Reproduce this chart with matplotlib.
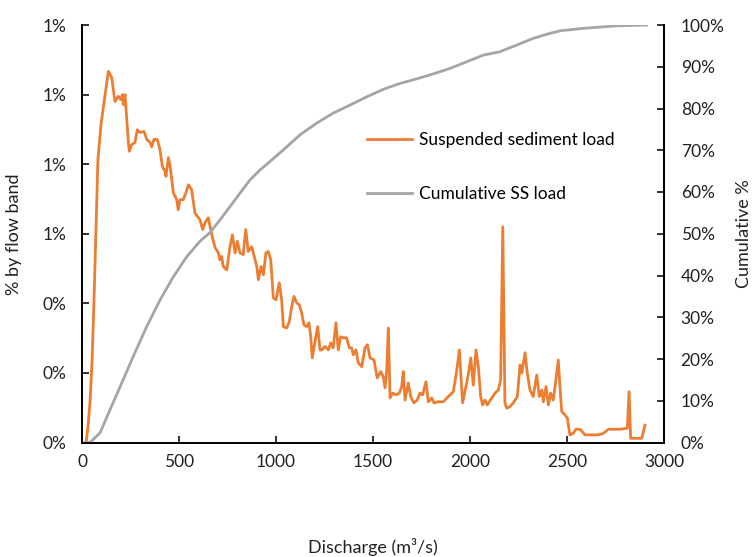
import numpy as np
import matplotlib
matplotlib.use("Agg")
import matplotlib.pyplot as plt
from matplotlib.ticker import PercentFormatter, MultipleLocator

plt.rcParams['font.family'] = ['Lato', 'DejaVu Sans']

# suspended sediment load by flow band (fraction of total)
ss_q = [21, 31, 41, 52, 62, 72, 82, 98, 119, 136, 153, 170, 187, 199, 208, 213, 222,
        239, 244, 256, 273, 285, 299, 320, 334, 351, 359, 371, 388, 402, 414, 428, 433,
        445, 454, 471, 488, 496, 505, 522, 536, 548, 565, 582, 608, 622, 634, 651, 669,
        686, 703, 711, 720, 728, 746, 763, 775, 789, 801, 814, 831, 844, 857, 875, 883,
        901, 909, 923, 935, 948, 960, 973, 986, 1000, 1017, 1029, 1038, 1055, 1069, 1081,
        1093, 1107, 1120, 1132, 1144, 1158, 1170, 1179, 1187, 1201, 1215, 1227, 1236,
        1253, 1270, 1282, 1295, 1309, 1321, 1333, 1347, 1364, 1378, 1390, 1398, 1412,
        1424, 1442, 1459, 1471, 1485, 1505, 1522, 1540, 1553, 1562, 1571, 1579, 1588,
        1602, 1619, 1636, 1648, 1656, 1665, 1682, 1694, 1711, 1728, 1742, 1756, 1773,
        1785, 1803, 1814, 1837, 1862, 1888, 1914, 1931, 1945, 1962, 1979, 1991, 2004,
        2017, 2031, 2043, 2055, 2065, 2077, 2089, 2112, 2129, 2146, 2158, 2169, 2180,
        2189, 2206, 2223, 2244, 2258, 2267, 2284, 2295, 2309, 2326, 2344, 2357, 2370,
        2378, 2392, 2404, 2416, 2429, 2443, 2455, 2467, 2473, 2490, 2502, 2515, 2532,
        2546, 2567, 2593, 2619, 2661, 2687, 2713, 2773, 2811, 2820, 2828, 2885, 2902]
ss_pct = [0.0, 0.045, 0.114, 0.237, 0.41, 0.612, 0.813, 0.914, 1.0, 1.067, 1.049, 0.98,
          0.995, 0.986, 1.0, 0.971, 1.0, 0.862, 0.837, 0.856, 0.862, 0.899, 0.891, 0.894,
          0.871, 0.862, 0.85, 0.871, 0.871, 0.842, 0.794, 0.779, 0.765, 0.819, 0.794,
          0.718, 0.698, 0.669, 0.698, 0.698, 0.718, 0.741, 0.727, 0.66, 0.64, 0.612,
          0.632, 0.646, 0.597, 0.56, 0.545, 0.525, 0.535, 0.506, 0.496, 0.563, 0.597,
          0.545, 0.578, 0.545, 0.54, 0.612, 0.549, 0.563, 0.545, 0.506, 0.468, 0.506,
          0.482, 0.545, 0.549, 0.525, 0.416, 0.41, 0.459, 0.41, 0.333, 0.329, 0.348,
          0.391, 0.42, 0.401, 0.396, 0.373, 0.338, 0.333, 0.344, 0.304, 0.243, 0.29,
          0.333, 0.266, 0.266, 0.276, 0.266, 0.286, 0.272, 0.344, 0.266, 0.304, 0.301,
          0.301, 0.272, 0.272, 0.252, 0.266, 0.229, 0.218, 0.272, 0.281, 0.243, 0.237,
          0.186, 0.204, 0.189, 0.157, 0.209, 0.329, 0.128, 0.142, 0.137, 0.142, 0.161,
          0.204, 0.122, 0.171, 0.132, 0.114, 0.122, 0.142, 0.137, 0.175, 0.117, 0.128,
          0.114, 0.117, 0.117, 0.132, 0.146, 0.204, 0.266, 0.114, 0.161, 0.194, 0.243,
          0.165, 0.266, 0.218, 0.132, 0.108, 0.122, 0.108, 0.128, 0.142, 0.151, 0.18,
          0.62, 0.114, 0.099, 0.103, 0.114, 0.132, 0.223, 0.2, 0.258, 0.2, 0.151, 0.132,
          0.194, 0.132, 0.151, 0.117, 0.161, 0.108, 0.142, 0.122, 0.18, 0.237, 0.132,
          0.089, 0.079, 0.07, 0.022, 0.026, 0.038, 0.038, 0.022, 0.022, 0.022, 0.026,
          0.038, 0.038, 0.041, 0.146, 0.012, 0.012, 0.05]

# cumulative suspended sediment load (%)
cum_q = [15, 41, 93, 144, 196, 264, 333, 402, 471, 540, 608, 660, 711, 763, 814, 866,
         918, 969, 1038, 1124, 1210, 1295, 1381, 1468, 1553, 1639, 1725, 1811, 1897,
         1983, 2069, 2155, 2241, 2326, 2412, 2464, 2584, 2756, 2911]
cum_pct = [0, 0, 2.3, 7.8, 13.3, 20.6, 27.7, 34.1, 39.7, 44.5, 48.2, 50.3, 53.3, 56.5,
           59.7, 62.9, 65.3, 67.3, 70.1, 73.7, 76.5, 78.9, 80.8, 82.8, 84.6, 86.0, 87.1,
           88.3, 89.6, 91.2, 92.8, 93.6, 95.2, 96.8, 98.0, 98.6, 99.2, 99.8, 100]

orange = '#ED7D31'
grey = '#A5A5A5'

W, H = 754, 557
fig = plt.figure(figsize=(W / 100, H / 100), dpi=100)
ax = fig.add_axes([82 / W, 1 - 442.5 / H, 582 / W, 417.5 / H])
ax2 = ax.twinx()

l1, = ax.plot(ss_q, np.array(ss_pct) / 100, color=orange, lw=2.0,
              label='Suspended sediment load')
l2, = ax2.plot(cum_q, np.array(cum_pct) / 100, color=grey, lw=2.0,
               label='Cumulative SS load')

ax.set_xlim(0, 3000)
ax.set_ylim(0, 0.012)
ax2.set_ylim(0, 1.0)
ax.xaxis.set_major_locator(MultipleLocator(500))
ax.yaxis.set_major_locator(MultipleLocator(0.002))
ax2.yaxis.set_major_locator(MultipleLocator(0.1))
ax.yaxis.set_major_formatter(PercentFormatter(xmax=1, decimals=0))
ax2.yaxis.set_major_formatter(PercentFormatter(xmax=1, decimals=0))

for a in (ax, ax2):
    a.spines['top'].set_visible(False)
    for s in ('left', 'right', 'bottom'):
        a.spines[s].set_linewidth(1.3)
        a.spines[s].set_color('black')
    a.tick_params(direction='in', length=5, width=1.3, labelsize=12.5,
                  colors='#222222')
ax.tick_params(axis='x', pad=8)
ax.tick_params(axis='y', pad=11)
ax2.tick_params(axis='y', pad=12)

# axis titles placed in figure pixels like the reference
fig.text(373 / W, 1 - 547 / H, 'Discharge (m³/s)', fontsize=13,
         ha='center', va='center', color='#222222')
fig.text(14 / W, 1 - 234 / H, '% by flow band', fontsize=13, rotation=90,
         ha='center', va='center', color='#222222')
fig.text(744 / W, 1 - 234 / H, 'Cumulative %', fontsize=13, rotation=90,
         ha='center', va='center', color='#222222')

ax2.legend(handles=[l1, l2], loc='center left', bbox_to_anchor=(0.463, 0.66),
           frameon=False, fontsize=12.5, handlelength=2.6, labelspacing=2.2,
           handletextpad=0.4)

fig.savefig('out.png', dpi=100)
